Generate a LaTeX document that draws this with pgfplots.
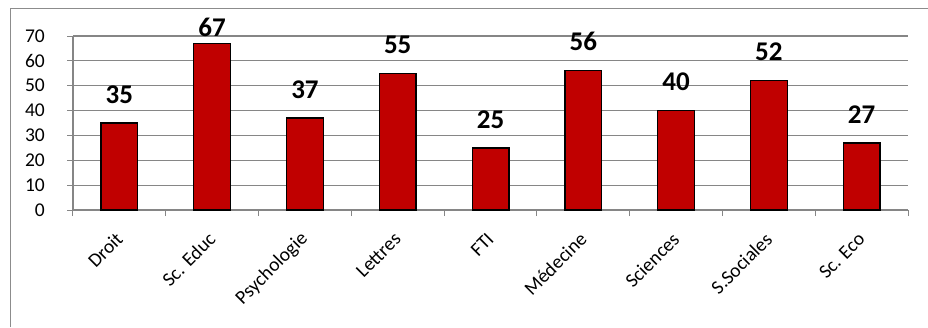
\documentclass[border=0pt]{standalone}
\usepackage{fontspec}
\setmainfont{Carlito}
\usepackage{pgfplots}
\usepackage{pgfplotstable}
\pgfplotsset{compat=1.18}

\definecolor{barred}{HTML}{C00000}
\definecolor{gridgray}{HTML}{868686}
\definecolor{framegray}{HTML}{8C8C8C}

% effectifs par faculte; dy = decalage vertical de l'etiquette
\pgfplotstableread{
x y dy
0 35 19
1 67 6
2 37 19
3 55 19
4 25 19
5 56 19
6 40 19
7 52 19
8 27 19
}\effectifs

\begin{document}
\begin{tikzpicture}
\useasboundingbox (0,0) rectangle (928pt,327pt);
% cadre du graphique
\draw[framegray, line width=1pt] (10.5pt,0) -- (10.5pt,318.5pt) -- (928pt,318.5pt);
\begin{axis}[
  at={(73pt,117pt)}, anchor=south west,
  scale only axis,
  width=835pt, height=174pt,
  xmin=-0.5, xmax=8.5,
  ymin=0, ymax=70,
  ytick={0,10,...,70},
  xtick={0,...,8},
  xticklabels={Droit,Sc. Educ,Psychologie,Lettres,FTI,Médecine,Sciences,S.Sociales,Sc. Eco},
  minor xtick={-0.5,0.5,...,8.5},
  major x tick style={draw=none},
  minor x tick style={gridgray, line width=1pt},
  minor tick length=6pt,
  major tick length=6pt,
  tick align=outside,
  y tick style={gridgray, line width=1pt},
  axis x line*=bottom, axis y line*=left,
  axis line style={gridgray, line width=1.2pt},
  ymajorgrids,
  major grid style={gridgray, line width=1.1pt},
  /pgf/number format/assume math mode=true,
  yticklabel style={font=\fontsize{19.5}{20}\selectfont, anchor=east, inner sep=0pt, xshift=-22pt},
  xticklabel style={font=\fontsize{19.5}{20}\selectfont, yshift=-20pt, rotate=45, anchor=east, inner sep=0pt},
  ybar, bar width=36.7pt,
  nodes near coords,
  visualization depends on={\thisrow{dy} \as \dy},
  every node near coord/.append style={font=\fontsize{27}{28}\selectfont\bfseries, anchor=south, inner sep=0pt, yshift=\dy pt},
  clip=false,
]
\addplot[fill=barred, draw=black, line width=1.3pt] table[x=x, y=y] {\effectifs};
\end{axis}
\end{tikzpicture}
\end{document}
